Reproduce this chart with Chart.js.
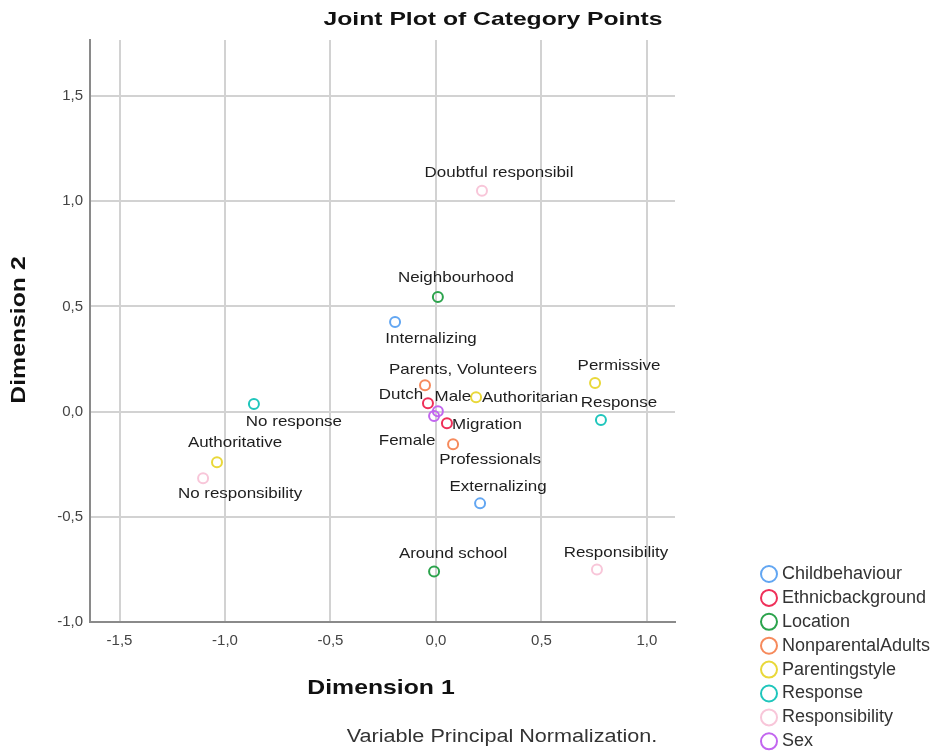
<!DOCTYPE html>
<html>
<head>
<meta charset="utf-8">
<title>Joint Plot of Category Points</title>
<script src="https://cdn.jsdelivr.net/npm/chart.js@4.4.1/dist/chart.umd.min.js"></script>
<style>
  html, body { margin: 0; padding: 0; background: #fff; }
  #wrap { width: 938px; height: 753px; position: relative; }
</style>
</head>
<body>
<div id="wrap"><canvas id="myChart"></canvas></div>
<script>
// variables (one dataset each)
var groups = ['Childbehaviour', 'Ethnicbackground', 'Location', 'NonparentalAdults',
              'Parentingstyle', 'Response', 'Responsibility', 'Sex'];

// category names per variable
var categories = [
    ['Internalizing', 'Externalizing'],
    ['Dutch', 'Migration'],
    ['Neighbourhood', 'Around school'],
    ['Parents, Volunteers', 'Professionals'],
    ['Authoritarian', 'Permissive', 'Authoritative'],
    ['Response', 'No response'],
    ['Doubtful responsibil', 'Responsibility', 'No responsibility'],
    ['Male', 'Female']
];

// Dimension 1 coordinates
var dim1 = [
    [-0.194, 0.209],
    [-0.038, 0.052],
    [0.009, -0.009],
    [-0.052, 0.081],
    [0.190, 0.754, -1.038],
    [0.782, -0.863],
    [0.218, 0.763, -1.104],
    [0.009, -0.009]
];

// Dimension 2 coordinates
var dim2 = [
    [0.426, -0.436],
    [0.040, -0.055],
    [0.545, -0.760],
    [0.126, -0.155],
    [0.069, 0.136, -0.240],
    [-0.040, 0.036],
    [1.050, -0.750, -0.317],
    [0.002, -0.021]
];

var axisTicks = [-1.5, -1.0, -0.5, 0.0, 0.5, 1.0, 1.5];

// --- styling ---
var colors = ['#62a6f2', '#ef3059', '#2ba34c', '#f68a5c', '#e9d83a', '#1fc6bc', '#f8c6d9', '#c266ef'];

// label centre offsets (px) from the marker, same shape as categories
var labelOffsets = [
    [[36, 17], [18, -17]],
    [[-27, -8], [40, 2]],
    [[18, -19], [19, -18]],
    [[38, -15], [37, 16]],
    [[54, 1], [24, -17], [18, -19]],
    [[18, -17], [40, 18]],
    [[17, -18], [19, -17], [37, 16]],
    [[15, -14], [-27, 25]]
];

var FONT = '"Liberation Sans", Arial, sans-serif';

function fmt(v){
    return v.toFixed(1).replace('.', ',');
}

// fixed ticks every 0.5 that fall inside the axis range
function keepTicks(scale){
    scale.ticks = axisTicks.filter(function(v){
        return v >= scale.min - 1e-9 && v <= scale.max + 1e-9;
    }).map(function(v){ return {value: v}; });
}

function stretchText(ctx, text, x, y, font, sx, align, rot){
    ctx.save();
    ctx.translate(x, y);
    if(rot) ctx.rotate(rot);
    ctx.scale(sx, 1);
    ctx.font = font;
    ctx.textAlign = align || 'center';
    ctx.textBaseline = 'middle';
    ctx.fillText(text, 0, 0);
    ctx.restore();
}

var decorations = {
    id: 'decorations',
    afterDatasetsDraw: function(chart){
        var ctx = chart.ctx;

        // point labels
        ctx.fillStyle = '#1e1e1e';
        chart.data.datasets.forEach(function(ds, i){
            var meta = chart.getDatasetMeta(i);
            meta.data.forEach(function(pt, j){
                var off = labelOffsets[i][j];
                stretchText(ctx, categories[i][j], pt.x + off[0], pt.y + off[1],
                            '15px ' + FONT, 1.13, 'center');
            });
        });

        // titles
        ctx.fillStyle = '#111';
        stretchText(ctx, 'Joint Plot of Category Points', 493, 20, 'bold 19px ' + FONT, 1.3);
        stretchText(ctx, 'Dimension 1', 381, 688, 'bold 21px ' + FONT, 1.18);
        stretchText(ctx, 'Dimension 2', 19, 330, 'bold 21px ' + FONT, 1.18, 'center', -Math.PI / 2);
        ctx.fillStyle = '#333';
        stretchText(ctx, 'Variable Principal Normalization.', 502, 737, '18px ' + FONT, 1.2);

        // legend
        chart.data.datasets.forEach(function(ds, i){
            var cy = 574 + i * 23.9;
            ctx.beginPath();
            ctx.arc(769, cy, 8, 0, Math.PI * 2);
            ctx.lineWidth = 2;
            ctx.strokeStyle = ds.borderColor;
            ctx.stroke();
            ctx.fillStyle = '#333';
            stretchText(ctx, ds.label, 782, cy, '18px ' + FONT, 1.0, 'left');
        });
    }
};

var datasets = groups.map(function(g, i){
    return {
        label: g,
        data: dim1[i].map(function(x, j){ return {x: x, y: dim2[i][j]}; }),
        borderColor: colors[i],
        backgroundColor: 'rgba(0,0,0,0)',
        pointStyle: 'circle',
        pointRadius: 5,
        pointHoverRadius: 5,
        borderWidth: 2
    };
});

var ctx = document.getElementById('myChart').getContext('2d');
var myChart = new Chart(ctx, {
    type: 'scatter',
    data: { datasets: datasets },
    options: {
        responsive: true,
        maintainAspectRatio: false,
        animation: false,
        layout: { padding: { top: 40, right: 263, left: 0, bottom: 0 } },
        plugins: {
            legend: { display: false },
            title: { display: false },
            tooltip: { enabled: false }
        },
        scales: {
            x: {
                type: 'linear',
                min: -1.64,
                max: 1.133,
                afterBuildTicks: keepTicks,
                afterFit: function(s){ s.height = 131; },
                ticks: {
                    callback: function(v){ return fmt(v); },
                    font: { family: FONT, size: 15 },
                    color: '#444',
                    padding: 10,
                    maxRotation: 0,
                    autoSkip: false
                },
                grid: { color: '#d2d2d2', lineWidth: 2, drawTicks: false },
                border: { color: '#8a8a8a', width: 2 }
            },
            y: {
                type: 'linear',
                min: -1.0,
                max: 1.767,
                afterBuildTicks: keepTicks,
                afterFit: function(s){ s.width = 90; },
                ticks: {
                    callback: function(v){ return fmt(v); },
                    font: { family: FONT, size: 15 },
                    color: '#444',
                    padding: 7,
                    autoSkip: false
                },
                grid: { color: '#d2d2d2', lineWidth: 2, drawTicks: false },
                border: { color: '#8a8a8a', width: 2 }
            }
        }
    },
    plugins: [decorations]
});
</script>
</body>
</html>
